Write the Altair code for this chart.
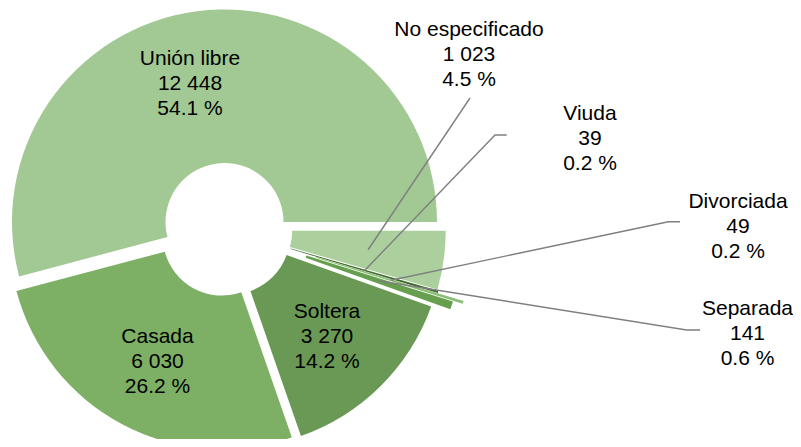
import math
import altair as alt
import pandas as pd

# ---- data ----
categories = ["No especificado", "Viuda", "Divorciada", "Separada", "Soltera", "Casada", "Unión libre"]
values = [1023, 39, 49, 141, 3270, 6030, 12448]
percent_labels = ["4.5 %", "0.2 %", "0.2 %", "0.6 %", "14.2 %", "26.2 %", "54.1 %"]

# ---- style / layout ----
colors = ["#abd09d", "#3f6b2c", "#8cbd76", "#66a04e", "#6a9955", "#7db065", "#a2c994"]
MARGIN = 8
W, H = 785, 431
LINE_H = 25
TEXT_DY = 2.5
CX, CY = 225.5 - MARGIN, 229.7 - MARGIN
R_OUT, R_IN = 212.5, 59
explode = [7.8, 9, 36, 26, 7.8, 7.8, 7.8]
num_pad = [1, 2, 2, 2, 1, 1, 1]
# centre of the middle line of each 3-line label (page pixels)
label_pos = [(469, 52), (590, 136), (738, 224), (747.5, 331.5), (327, 334), (157.5, 359.5), (190, 81)]
leader_r = [144, 145, 173, 161, None, None, None]
leader_path = [
    [(470, 98)],
    [(495, 135), (506.7, 135)],
    [(668.3, 221.7), (680, 221.7)],
    [(686.7, 330), (700, 330)],
    None, None, None,
]

total = sum(values)
rows, text_rows, line_rows = [], [], []
acc = 0
for i, (cat, v, pct) in enumerate(zip(categories, values, percent_labels)):
    start, end = acc, acc + v
    acc = end
    mid = math.pi / 2 + 2 * math.pi * (start + v / 2) / total
    cx = CX + explode[i] * math.sin(mid)
    cy = CY - explode[i] * math.cos(mid)
    rows.append({"cat": cat, "start": start, "end": end, "cx": cx, "cy": cy})
    num = f"{v:,}".replace(",", "\u00a0")
    label = f"{cat}\n{chr(0xa0) * num_pad[i]}{num}\n{pct}"
    lx, ly = label_pos[i]
    text_rows.append({"cat": cat, "label": label, "lx": lx - MARGIN,
                      "ly": ly - MARGIN - LINE_H + TEXT_DY})
    if leader_r[i] is not None:
        sx = CX + leader_r[i] * math.sin(mid)
        sy = CY - leader_r[i] * math.cos(mid)
        pts = [(sx, sy)] + [(px - MARGIN, py - MARGIN) for px, py in leader_path[i]]
        for k, (px, py) in enumerate(pts):
            line_rows.append({"cat": cat, "idx": k, "px": px, "py": py})

df = pd.DataFrame(rows)
tdf = pd.DataFrame(text_rows)
ldf = pd.DataFrame(line_rows)

arcs = alt.Chart(df).mark_arc(outerRadius=R_OUT, innerRadius=R_IN).encode(
    theta=alt.Theta("start:Q", stack=None,
                    scale=alt.Scale(domain=[0, total], range=[math.pi / 2, math.pi / 2 + 2 * math.pi])),
    theta2="end:Q",
    x=alt.X("cx:Q", scale=None, axis=None),
    y=alt.Y("cy:Q", scale=None, axis=None),
    color=alt.Color("cat:N", scale=alt.Scale(domain=categories, range=colors), legend=None),
)

lines = alt.Chart(ldf).mark_line(color="#7f7f7f", strokeWidth=1.4).encode(
    x=alt.X("px:Q", scale=None, axis=None),
    y=alt.Y("py:Q", scale=None, axis=None),
    detail="cat:N",
    order="idx:Q",
)

texts = alt.Chart(tdf).mark_text(
    font="Liberation Sans", fontSize=21, lineHeight=LINE_H, lineBreak="\n",
    align="center", baseline="middle", color="#000000",
).encode(
    x=alt.X("lx:Q", scale=None, axis=None),
    y=alt.Y("ly:Q", scale=None, axis=None),
    text="label:N",
)

chart = alt.layer(arcs, lines, texts).properties(
    width=W, height=H, padding=0, autosize=alt.AutoSizeParams(type="none"),
).configure_view(stroke=None)

chart.save("out.html", embed_options={"renderer": "svg", "actions": False})
